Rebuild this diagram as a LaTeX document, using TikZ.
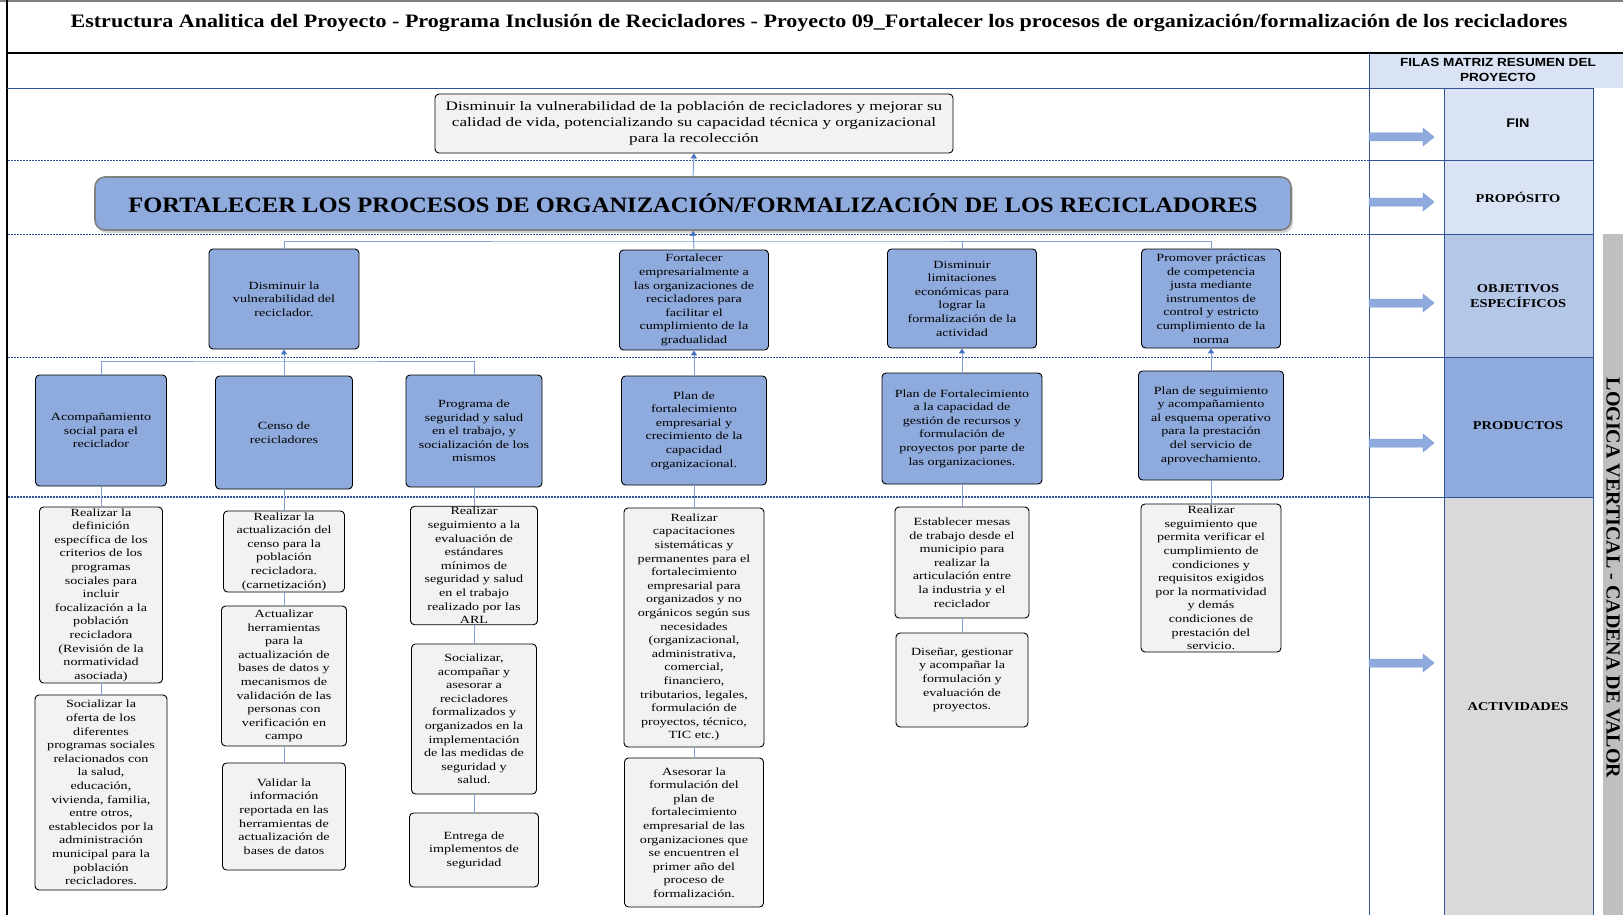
\documentclass[tikz,border=0pt]{standalone}
\usepackage{fontspec}
\setmainfont{Liberation Serif}
\newfontfamily\bx[FakeStretch=1.28]{Liberation Serif}
\newfontfamily\fx[FakeStretch=1.32]{Liberation Serif}
\newfontfamily\tx[FakeStretch=1.16]{Liberation Serif}
\newfontfamily\px[FakeStretch=1.115]{Liberation Serif}
\newfontfamily\lx[FakeStretch=1.2]{Liberation Serif}
\newfontfamily\hsx[FakeStretch=1.15]{Liberation Sans}
\usetikzlibrary{shadows,arrows.meta}
\definecolor{boxblue}{HTML}{8FAADC}
\definecolor{actgray}{HTML}{F2F2F2}
\definecolor{connblue}{HTML}{7F9FD9}
\definecolor{arrowblue}{HTML}{4472C4}
\definecolor{sepblue}{HTML}{2F5597}
\definecolor{gridblue}{HTML}{2F5597}
\definecolor{lightcell}{HTML}{DAE3F3}
\definecolor{midcell}{HTML}{B4C7E7}
\definecolor{actcell}{HTML}{D9D9D9}
\definecolor{bargray}{HTML}{BFBFBF}
\tikzset{
  objbox/.style={draw=black, line width=0.9pt, fill=boxblue, rounded corners=4pt, align=center, inner sep=1pt, font=\bx\fontsize{11}{13.6}\selectfont},
  actbox/.style={objbox, fill=actgray},
  conn/.style={draw=connblue, line width=1pt},
  arr/.style={-{Triangle[length=5pt,width=6pt,color=arrowblue]}},
  sepline/.style={draw=sepblue, line width=0.8pt, dash pattern=on 2pt off 1pt},
  gridline/.style={draw=gridblue, line width=0.9pt},
  rowlabel/.style={font=\lx\bfseries\fontsize{12}{15}\selectfont, align=center},
  blockarrow/.style={fill=boxblue, draw=arrowblue!70, line width=0.5pt}
}
\newcommand\rowarrow[1]{\filldraw[blockarrow] (1369,#1-4) -- (1423,#1-4) -- (1423,#1-9) -- (1434,#1) -- (1423,#1+9) -- (1423,#1+4) -- (1369,#1+4) -- cycle;}
\begin{document}
\begin{tikzpicture}[x=1pt,y=-1pt]
\useasboundingbox (0,0) rectangle (1623,915);
\fill[white] (0,0) rectangle (1623,915);
% right column cells
\fill[lightcell] (1369,53) rectangle (1623,88);
\fill[lightcell] (1444,88) rectangle (1593,234);
\fill[midcell] (1444,234) rectangle (1593,357);
\fill[boxblue] (1444,357) rectangle (1593,497);
\fill[actcell] (1444,497) rectangle (1593,915);
\fill[bargray] (1603,234) rectangle (1623,915);
% frame
\draw[gray, line width=2pt] (0,1) -- (1623,1);
\draw[black, line width=2.2pt] (7,0) -- (7,915);
\draw[black, line width=1.2pt] (7,53) -- (1623,53);
\draw[gridline] (7,88) -- (1593,88);
\draw[gridline] (1369,53) -- (1369,915);
\draw[gridline] (1444,88) -- (1444,915);
\draw[gridline] (1593,88) -- (1593,915);
\foreach \yy in {160,234,357,497} {
  \draw[gridline] (1369,\yy) -- (1593,\yy);
  \draw[sepline] (8,\yy) -- (1369,\yy);
}
\draw[sepline, line width=1.3pt] (8,497) -- (1369,497);
% title
\node[font=\tx\bfseries\fontsize{19}{20}\selectfont] (title) at (819,23) {Estructura Analitica del Proyecto - Programa Inclusión de Recicladores - Proyecto 09\_Fortalecer los procesos de organización/formalización de los recicladores};
\node[font=\hsx\bfseries\fontsize{11.8}{15}\selectfont, align=center] (hdr) at (1498,70) {FILAS MATRIZ RESUMEN DEL\\PROYECTO};
% row labels
\node[font=\hsx\bfseries\fontsize{12.5}{14}\selectfont] (lfin) at (1518,123) {FIN};
\node[rowlabel] (lprop) at (1518,197) {PROPÓSITO};
\node[rowlabel] (lobj) at (1518,296) {OBJETIVOS\\ESPECÍFICOS};
\node[rowlabel] (lprod) at (1518,426) {PRODUCTOS};
\node[rowlabel] (lact) at (1518,707) {ACTIVIDADES};
\node[rotate=-90, font=\bfseries\fontsize{20}{21}\selectfont] (lv) at (1613,578) {LOGICA VERTICAL - CADENA DE VALOR};
\rowarrow{137}
\rowarrow{202}
\rowarrow{303}
\rowarrow{443}
\rowarrow{663}
% fin and proposito
\node[actbox, font=\fx\fontsize{13}{16}\selectfont, minimum width=518, minimum height=59] (fin) at (694,123.5) {Disminuir la vulnerabilidad de la población de recicladores y mejorar su\\calidad de vida, potencializando su capacidad técnica y organizacional\\para la recolección};
\node[draw=gray, line width=1.6pt, fill=boxblue, rounded corners=10pt, minimum width=1196, minimum height=53, font=\px\bfseries\fontsize{22}{24}\selectfont, drop shadow={fill=gray!70, shadow xshift=2pt, shadow yshift=-3pt}] (prop) at (693,203.5) {FORTALECER LOS PROCESOS DE ORGANIZACIÓN/FORMALIZACIÓN DE LOS RECICLADORES};
% objectives
\node[objbox, minimum width=150, minimum height=100] (o1) at (284,299) {Disminuir la\\vulnerabilidad del\\reciclador.};
\node[objbox, minimum width=149, minimum height=100] (o2) at (694,300) {Fortalecer\\empresarialmente a\\las organizaciones de\\recicladores para\\facilitar el\\cumplimiento de la\\gradualidad};
\node[objbox, minimum width=149, minimum height=99] (o3) at (962,298.5) {Disminuir\\limitaciones\\económicas para\\lograr la\\formalización de la\\actividad};
\node[objbox, minimum width=139, minimum height=99] (o4) at (1211,298.5) {Promover prácticas\\de competencia\\justa mediante\\instrumentos de\\control y estricto\\cumplimiento de la\\norma};
% products
\node[objbox, minimum width=131, minimum height=111] (p1) at (101,430.5) {Acompañamiento\\social para el\\reciclador};
\node[objbox, minimum width=137, minimum height=113] (p2) at (284,432.5) {Censo de\\recicladores};
\node[objbox, minimum width=136, minimum height=112] (p3) at (474,431) {Programa de\\seguridad y salud\\en el trabajo, y\\socialización de los\\mismos};
\node[objbox, minimum width=145, minimum height=109] (p4) at (694,430.5) {Plan de\\fortalecimiento\\empresarial y\\crecimiento de la\\capacidad\\organizacional.};
\node[objbox, minimum width=160, minimum height=111] (p5) at (962,428.5) {Plan de Fortalecimiento\\a la capacidad de\\gestión de recursos y\\formulación de\\proyectos por parte de\\las organizaciones.};
\node[objbox, minimum width=145, minimum height=109] (p6) at (1211,425.5) {Plan de seguimiento\\y acompañamiento\\al esquema operativo\\para la prestación\\del servicio de\\aprovechamiento.};
% activities
\node[actbox, minimum width=123, minimum height=176] (a11) at (101,595) {Realizar la\\definición\\específica de los\\criterios de los\\programas\\sociales para\\incluir\\focalización a la\\población\\recicladora\\(Revisión de la\\normatividad\\asociada)};
\node[actbox, minimum width=132, minimum height=195] (a12) at (101,792.5) {Socializar la\\oferta de los\\diferentes\\programas sociales\\relacionados con\\la salud,\\educación,\\vivienda, familia,\\entre otros,\\establecidos por la\\administración\\municipal para la\\población\\recicladores.};
\node[actbox, minimum width=121, minimum height=81] (a21) at (284,551.5) {Realizar la\\actualización del\\censo para la\\población\\recicladora.\\(carnetización)};
\node[actbox, minimum width=125, minimum height=140] (a22) at (284,676) {Actualizar\\herramientas\\para la\\actualización de\\bases de datos y\\mecanismos de\\validación de las\\personas con\\verificación en\\campo};
\node[actbox, minimum width=123, minimum height=107] (a23) at (284,816.5) {Validar la\\información\\reportada en las\\herramientas de\\actualización de\\bases de datos};
\node[actbox, minimum width=127, minimum height=117] (a31) at (474,565.5) {Realizar\\seguimiento a la\\evaluación de\\estándares\\mínimos de\\seguridad y salud\\en el trabajo\\realizado por las\\ARL};
\node[actbox, minimum width=125, minimum height=150] (a32) at (474,719) {Socializar,\\acompañar y\\asesorar a\\recicladores\\formalizados y\\organizados en la\\implementación\\de las medidas de\\seguridad y\\salud.};
\node[actbox, minimum width=129, minimum height=74] (a33) at (474,850) {Entrega de\\implementos de\\seguridad};
\node[actbox, minimum width=140, minimum height=239] (a41) at (694,627.5) {Realizar\\capacitaciones\\sistemáticas y\\permanentes para el\\fortalecimiento\\empresarial para\\organizados y no\\orgánicos según sus\\necesidades\\(organizacional,\\administrativa,\\comercial,\\financiero,\\tributarios, legales,\\formulación de\\proyectos, técnico,\\TIC etc.)};
\node[actbox, minimum width=139, minimum height=149] (a42) at (694,832.5) {Asesorar la\\formulación del\\plan de\\fortalecimiento\\empresarial de las\\organizaciones que\\se encuentren el\\primer año del\\proceso de\\formalización.};
\node[actbox, minimum width=134, minimum height=111] (a51) at (962,562.5) {Establecer mesas\\de trabajo desde el\\municipio para\\realizar la\\articulación entre\\la industria y el\\reciclador};
\node[actbox, minimum width=132, minimum height=94] (a52) at (962,680) {Diseñar, gestionar\\y acompañar la\\formulación y\\evaluación de\\proyectos.};
\node[actbox, minimum width=140, minimum height=148] (a61) at (1211,578) {Realizar\\seguimiento que\\permita verificar el\\cumplimiento de\\condiciones y\\requisitos exigidos\\por la normatividad\\y demás\\condiciones de\\prestación del\\servicio.};
% connectors
\draw[conn, arr] (prop.north) -- (fin.south);
\coordinate (bus1) at (694,241);
\draw[conn] (o1.north) |- (bus1) -| (o4.north);
\draw[conn] (o3.north) -- (o3.north |- bus1);
\draw[conn, arr] (o2.north) -- (prop.south);
\coordinate (bus2) at (284,361);
\draw[conn] (p1.north) |- (bus2) -| (p3.north);
\draw[conn, arr] (p2.north) -- (o1.south);
\draw[conn, arr] (p4.north) -- (o2.south);
\draw[conn, arr] (p5.north) -- (o3.south);
\draw[conn, arr] (p6.north) -- (o4.south);
\draw[conn] (p1.south) -- (a11.north);
\draw[conn] (a11.south) -- (a12.north);
\draw[conn] (p2.south) -- (a21.north);
\draw[conn] (a21.south) -- (a22.north);
\draw[conn] (a22.south) -- (a23.north);
\draw[conn] (p3.south) -- (a31.north);
\draw[conn] (a31.south) -- (a32.north);
\draw[conn] (a32.south) -- (a33.north);
\draw[conn] (p4.south) -- (a41.north);
\draw[conn] (a41.south) -- (a42.north);
\draw[conn] (p5.south) -- (a51.north);
\draw[conn] (a51.south) -- (a52.north);
\draw[conn] (p6.south) -- (a61.north);
\end{tikzpicture}
\end{document}
